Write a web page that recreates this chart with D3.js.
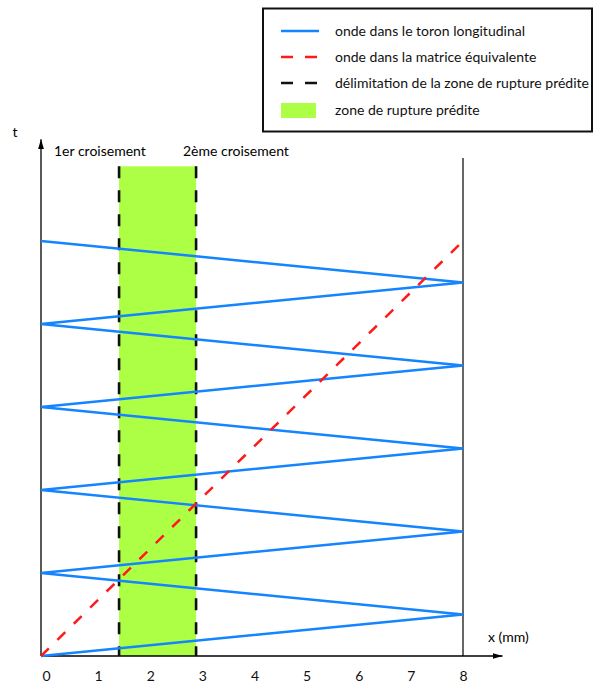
<!DOCTYPE html>
<html>
<head>
<meta charset="utf-8">
<script src="https://cdn.jsdelivr.net/npm/d3@7"></script>
<style>
  html, body { margin: 0; padding: 0; background: #fff; }
  svg { display: block; font-family: Lato, "Liberation Sans", sans-serif; }
</style>
</head>
<body>
<svg id="chart" width="596" height="689"></svg>
<script>
// ---- data ----
const xTicks = [0, 1, 2, 3, 4, 5, 6, 7, 8];
const xTickLabels = ["0", "1", "2", "3", "4", "5", "6", "7", "8"];
// wave in the longitudinal strand (zig-zag between x=0 and x=8)
const toronX = [0, 8, 0, 8, 0, 8, 0, 8, 0, 8, 0];
const toronT = [0, 1, 2, 3, 4, 5, 6, 7, 8, 9, 10];
// wave in the equivalent matrix
const matriceX = [0, 8];
const matriceT = [0, 10];
// predicted rupture zone
const zoneX = [1.48, 2.94];
const zoneTop = 11.8;
const rightWallTop = 12.0;
const axisTopT = 12.45;
const axisRightX = 8.75;
const crossingLabels = ["1er croisement", "2ème croisement"];
const legendLabels = [
  "onde dans le toron longitudinal",
  "onde dans la matrice équivalente",
  "délimitation de la zone de rupture prédite",
  "zone de rupture prédite"
];

// ---- colours ----
const BLUE = "#1584ff";
const RED = "#ff1a1a";
const GREEN = "#adff45";

const svg = d3.select("#chart");

const x = d3.scaleLinear().domain([0, 8]).range([41, 463]);
const xLabel = d3.scaleLinear().domain([0, 8]).range([46, 463]);
const y = d3.scaleLinear().domain([0, 10]).range([656, 241]);

// defs: arrowhead
const defs = svg.append("defs");
defs.append("marker")
  .attr("id", "arrow")
  .attr("viewBox", "0 0 10 6")
  .attr("refX", 10).attr("refY", 3)
  .attr("markerWidth", 10).attr("markerHeight", 6)
  .attr("markerUnits", "userSpaceOnUse")
  .attr("orient", "auto")
  .append("path").attr("d", "M0,0 L10,3 L0,6 Z").attr("fill", "#000");

// zone
svg.append("rect")
  .attr("x", x(zoneX[0])).attr("y", y(zoneTop))
  .attr("width", x(zoneX[1]) - x(zoneX[0]))
  .attr("height", y(0) - y(zoneTop))
  .attr("fill", GREEN);

// right wall
svg.append("line")
  .attr("x1", x(8)).attr("x2", x(8))
  .attr("y1", y(0)).attr("y2", y(rightWallTop))
  .attr("stroke", "#000").attr("stroke-width", 1.2);

// axes
svg.append("line")
  .attr("x1", x(0)).attr("x2", x(axisRightX))
  .attr("y1", y(0)).attr("y2", y(0))
  .attr("stroke", "#000").attr("stroke-width", 1.3)
  .attr("marker-end", "url(#arrow)");
svg.append("line")
  .attr("x1", x(0)).attr("x2", x(0))
  .attr("y1", y(0)).attr("y2", y(axisTopT))
  .attr("stroke", "#000").attr("stroke-width", 1.3)
  .attr("marker-end", "url(#arrow)");

// tick labels via axis generator
const xAxis = d3.axisBottom(xLabel)
  .tickValues(xTicks)
  .tickFormat((d, i) => xTickLabels[i])
  .tickSize(0).tickPadding(0);
const gx = svg.append("g").attr("transform", `translate(0, ${y(0) + 15})`).call(xAxis);
gx.select(".domain").remove();
gx.selectAll("text").attr("font-size", 14).attr("font-family", "Lato, sans-serif").attr("fill", "#111");

// zone boundary lines
svg.selectAll("line.zoneEdge").data(zoneX).enter().append("line")
  .attr("class", "zoneEdge")
  .attr("x1", d => x(d)).attr("x2", d => x(d))
  .attr("y1", y(zoneTop)).attr("y2", y(0))
  .attr("stroke", "#111").attr("stroke-width", 2.6)
  .attr("stroke-dasharray", "12,12");

// toron wave
const line = d3.line().x(d => x(d[0])).y(d => y(d[1]));
svg.append("path")
  .datum(toronX.map((v, i) => [v, toronT[i]]))
  .attr("d", line)
  .attr("fill", "none").attr("stroke", BLUE).attr("stroke-width", 2.5)
  .attr("stroke-linejoin", "miter");

// matrix wave
svg.append("path")
  .datum(matriceX.map((v, i) => [v, matriceT[i]]))
  .attr("d", line)
  .attr("fill", "none").attr("stroke", RED).attr("stroke-width", 2.5)
  .attr("stroke-dasharray", "11,12");

// axis labels
svg.append("text").attr("x", 15).attr("y", 137)
  .attr("text-anchor", "middle").attr("font-size", 14).text("t");
svg.append("text").attr("x", 488).attr("y", 642)
  .attr("font-size", 14).text("x (mm)");

// crossing labels
svg.append("text").attr("x", 54).attr("y", 156).attr("font-size", 14).text(crossingLabels[0]);
svg.append("text").attr("x", 183).attr("y", 156).attr("font-size", 14).text(crossingLabels[1]);

// legend
const lg = svg.append("g");
lg.append("rect").attr("x", 263).attr("y", 8.5).attr("width", 329).attr("height", 123)
  .attr("fill", "#fff").attr("stroke", "#111").attr("stroke-width", 2);
const rowY = [31, 57, 83, 110];
lg.append("line").attr("x1", 281).attr("x2", 319).attr("y1", rowY[0]).attr("y2", rowY[0])
  .attr("stroke", BLUE).attr("stroke-width", 2.5);
lg.append("line").attr("x1", 281).attr("x2", 319).attr("y1", rowY[1]).attr("y2", rowY[1])
  .attr("stroke", RED).attr("stroke-width", 2.5).attr("stroke-dasharray", "12,12");
lg.append("line").attr("x1", 281).attr("x2", 319).attr("y1", rowY[2]).attr("y2", rowY[2])
  .attr("stroke", "#111").attr("stroke-width", 2.5).attr("stroke-dasharray", "12,12");
lg.append("rect").attr("x", 281).attr("y", 103).attr("width", 35).attr("height", 15)
  .attr("fill", GREEN);
lg.selectAll("text.leg").data(legendLabels).enter().append("text")
  .attr("class", "leg")
  .attr("x", 335).attr("y", (d, i) => rowY[i] + 5)
  .attr("font-size", 14).attr("fill", "#111")
  .text(d => d);
</script>
</body>
</html>
